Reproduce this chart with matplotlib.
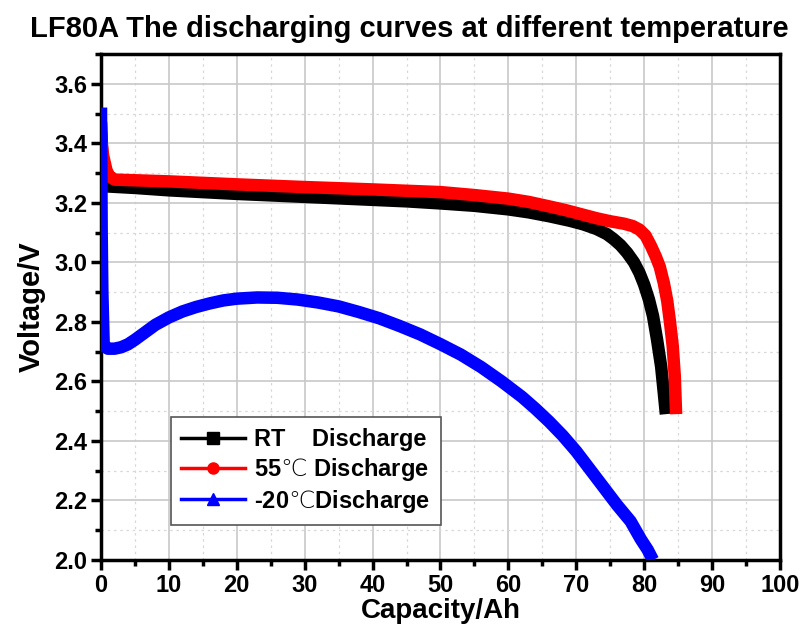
import matplotlib.pyplot as plt
from matplotlib.lines import Line2D
from matplotlib.ticker import MultipleLocator

plt.rcParams['font.family'] = ['Liberation Sans', 'DejaVu Sans']
plt.rcParams['font.weight'] = 'bold'
plt.rcParams['mathtext.fontset'] = 'custom'
plt.rcParams['mathtext.rm'] = 'DejaVu Sans:weight=light'

# (capacity Ah, voltage V)
rt_cap = [0, 0.2, 0.5, 1, 5, 10, 15, 20, 25, 30, 35, 40, 45, 50, 55, 60, 63, 66, 69, 71, 73,
          74.5, 75.5, 76.5, 77.5, 78.5, 79.3, 80, 80.7, 81.3, 81.9, 82.5, 82.9, 83.2]
rt_v = [3.47, 3.35, 3.26, 3.255, 3.25, 3.242, 3.236, 3.23, 3.225, 3.22, 3.215, 3.21, 3.205, 3.198,
        3.19, 3.178, 3.168, 3.155, 3.14, 3.128, 3.112, 3.095, 3.078, 3.058, 3.032, 3.0, 2.965,
        2.925, 2.875, 2.82, 2.74, 2.65, 2.56, 2.49]

hot_cap = [0, 0.3, 0.8, 1.2, 2, 10, 20, 30, 40, 50, 55, 60, 63, 66, 68.5, 71, 73, 75, 77, 78.3,
           79.3, 80.2, 81, 81.7, 82.3, 82.9, 83.4, 83.8, 84.2, 84.5, 84.7]
hot_v = [3.42, 3.36, 3.31, 3.29, 3.278, 3.272, 3.262, 3.253, 3.245, 3.236, 3.226, 3.214, 3.203,
         3.188, 3.175, 3.16, 3.148, 3.138, 3.13, 3.122, 3.11, 3.09, 3.055, 3.02, 2.985, 2.93,
         2.87, 2.8, 2.72, 2.62, 2.49]

cold_cap = [0, 0.1, 0.2, 0.4, 1, 2, 3, 4, 5, 6.5, 8, 10, 12, 14, 16, 18, 20, 23, 26, 29, 32, 35,
            38, 41, 44, 47, 50, 53, 56, 59, 62, 64, 66, 68, 70, 72, 74, 76, 78, 79.5, 80.5, 81.3]
cold_v = [3.52, 3.1, 2.9, 2.72, 2.71, 2.71, 2.715, 2.725, 2.74, 2.765, 2.79, 2.815, 2.835, 2.85,
          2.862, 2.872, 2.878, 2.882, 2.881, 2.875, 2.865, 2.852, 2.833, 2.812, 2.786, 2.758,
          2.725, 2.69, 2.648, 2.6, 2.548, 2.508, 2.465, 2.418, 2.365, 2.305, 2.245, 2.185,
          2.13, 2.07, 2.035, 2.0]

# the degree sign is drawn thin, as in the original
labels = ['RT    Discharge', '55$\\mathrm{\u2103}$ Discharge', '-20$\\mathrm{\u2103}$Discharge']
colors = ['black', 'red', 'blue']
markers = ['s', 'o', '^']

fig = plt.figure(figsize=(8.06, 6.42), dpi=100)
ax = fig.add_axes([0.1253, 0.1277, 0.8424, 0.7882])

for x, y, c in zip([rt_cap, hot_cap, cold_cap], [rt_v, hot_v, cold_v], colors):
    ax.plot(x, y, color=c, lw=9, solid_capstyle='butt', solid_joinstyle='round', zorder=3)

ax.set_xlim(0, 100)
ax.set_ylim(2.0, 3.7)
ax.xaxis.set_major_locator(MultipleLocator(10))
ax.xaxis.set_minor_locator(MultipleLocator(5))
ax.yaxis.set_minor_locator(MultipleLocator(0.1))
ax.set_yticks([2.0, 2.2, 2.4, 2.6, 2.8, 3.0, 3.2, 3.4, 3.6])
ax.yaxis.set_major_formatter(plt.FormatStrFormatter('%.1f'))

ax.grid(which='major', color='#c8c8c8', lw=1.2, ls='-')
ax.grid(which='minor', color='#d8d8d8', lw=0.9, ls=(0, (2, 3)))
ax.set_axisbelow(True)

for s in ax.spines.values():
    s.set_linewidth(2.5)
ax.tick_params(which='major', direction='out', length=7, width=2.5, labelsize=17, pad=3)
ax.tick_params(which='minor', direction='out', length=4, width=2.5)
for lab in ax.get_xticklabels() + ax.get_yticklabels():
    lab.set_fontweight('bold')

ax.set_xlabel('Capacity/Ah', fontsize=20, fontweight='bold', labelpad=1)
ax.set_ylabel('Voltage/V', fontsize=21, fontweight='bold', labelpad=6)
fig.text(0.508, 0.955, 'LF80A The discharging curves at different temperature',
         ha='center', va='center', fontsize=21, fontweight='bold')

handles = [Line2D([], [], color=c, marker=m, lw=2.5, markersize=8) for c, m in zip(colors, markers)]
leg = ax.legend(handles, labels, loc='upper left', bbox_to_anchor=(0.085, 0.305),
                fontsize=17, handlelength=2.7, handletextpad=0.4, labelspacing=0.2,
                fancybox=False, framealpha=1, edgecolor='#555555', borderpad=0.45)
leg.get_frame().set_linewidth(1.2)
for t in leg.get_texts():
    t.set_fontweight('bold')

fig.savefig('out.png', dpi=100)
